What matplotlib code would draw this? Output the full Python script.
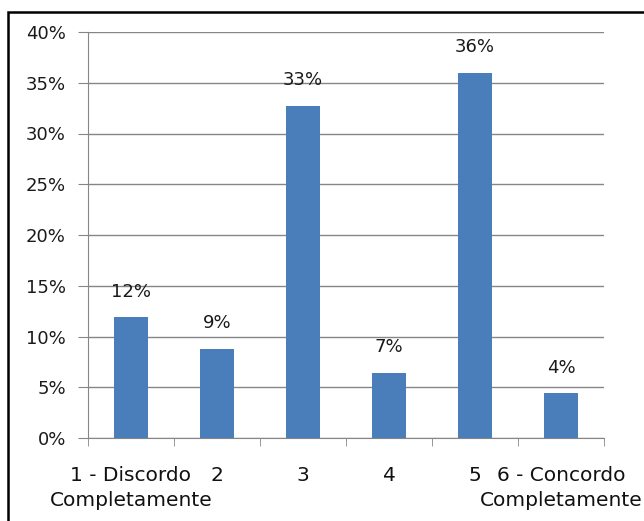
# Gráfico de barras: grau de concordância

import matplotlib.pyplot as plt
from matplotlib.patches import Rectangle
from matplotlib.ticker import PercentFormatter, FixedLocator

# Dados
categorias = ["1 - Discordo", "2", "3", "4", "5", "6 - Concordo"]
complementos = ["Completamente", "", "", "", "", "Completamente"]
percentuais = [11.9, 8.8, 32.7, 6.4, 36.0, 4.4]
rotulos = ["12%", "9%", "33%", "7%", "36%", "4%"]
y_ticks = [0, 5, 10, 15, 20, 25, 30, 35, 40]

AZUL = "#4A7EBB"
CINZA = "#868686"


def ve_grafico():
    fig = plt.figure(figsize=(6.44, 5.21), dpi=100)
    ax = fig.add_axes([88 / 644, 1 - 438 / 521, (604 - 88) / 644, (438 - 32) / 521])

    x = list(range(len(categorias)))
    ax.bar(x, percentuais, width=0.4, color=AZUL, zorder=3)

    # rótulos de dados
    for xi, v, r in zip(x, percentuais, rotulos):
        ax.annotate(r, (xi, v), xytext=(0, 12), textcoords="offset points",
                    ha="center", va="bottom", fontsize=13, color="#1a1a1a")

    ax.set_xlim(-0.5, len(categorias) - 0.5)
    ax.set_ylim(0, 40)
    ax.set_yticks(y_ticks)
    ax.yaxis.set_major_formatter(PercentFormatter(decimals=0))
    ax.grid(axis="y", color=CINZA, linewidth=1, zorder=0)

    ax.set_xticks(x)
    ax.set_xticklabels(categorias, fontsize=14.5)
    # segunda linha dos rótulos das categorias
    for xi, c in zip(x, complementos):
        if c:
            ax.annotate(c, (xi, 0), xycoords=("data", "axes fraction"),
                        xytext=(0, -38), textcoords="offset points",
                        ha="center", va="top", fontsize=14.5, color="#111111")
    ax.xaxis.set_minor_locator(FixedLocator([i - 0.5 for i in range(len(categorias) + 1)]))
    ax.tick_params(axis="x", which="major", length=0, pad=20, colors="#111111")
    ax.tick_params(axis="x", which="minor", length=6, color=CINZA, direction="out")
    ax.tick_params(axis="y", length=7, color=CINZA, pad=9, labelsize=13, labelcolor="#1a1a1a")

    for lado in ["top", "right"]:
        ax.spines[lado].set_visible(False)
    for lado in ["left", "bottom"]:
        ax.spines[lado].set_color(CINZA)

    # moldura preta do gráfico
    fig.patches.append(Rectangle((8 / 644, -0.1), 1.2, 1 - 12 / 521 + 0.1,
                                 transform=fig.transFigure, fill=False,
                                 edgecolor="black", linewidth=1.8))

    fig.savefig("out.png", dpi=100)


ve_grafico()
